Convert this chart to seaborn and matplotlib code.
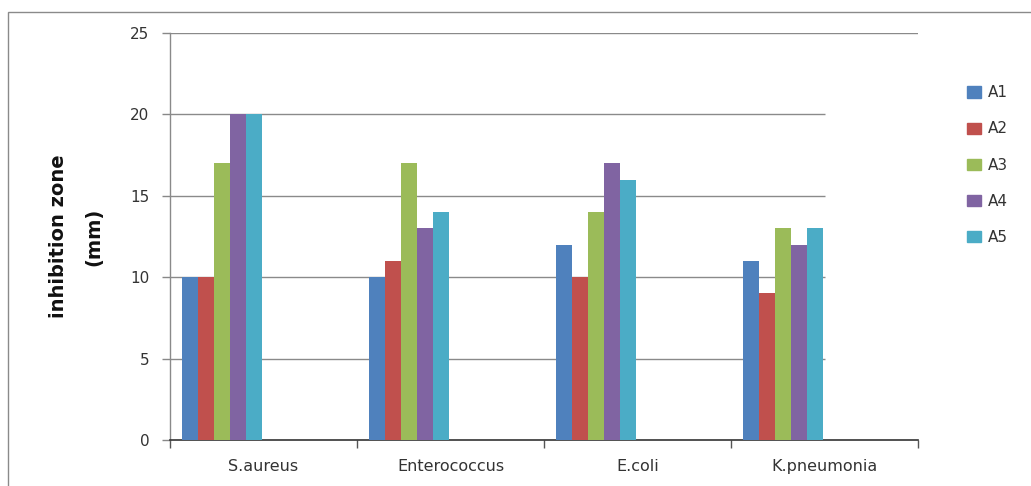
import matplotlib
matplotlib.use("Agg")
import matplotlib.pyplot as plt
import matplotlib.patches as mpatches
import seaborn as sns
import pandas as pd

# Inhibition zone (mm) per organism and sample
organisms = ["S.aureus", "Enterococcus", "E.coli", "K.pneumonia"]
samples = ["A1", "A2", "A3", "A4", "A5"]
a1 = [10, 10, 12, 11]
a2 = [10, 11, 10, 9]
a3 = [17, 17, 14, 13]
a4 = [20, 13, 17, 12]
a5 = [20, 14, 16, 13]
y_ticks = [0, 5, 10, 15, 20, 25]

colors = ["#4F81BD", "#C0504D", "#9BBB59", "#8064A2", "#4BACC6"]

series = dict(zip(samples, [a1, a2, a3, a4, a5]))
df = pd.DataFrame(
    [(org, s, series[s][i]) for s in samples for i, org in enumerate(organisms)],
    columns=["organism", "sample", "zone"],
)

sns.set_theme(style="white")
plt.rcParams["font.family"] = ["DejaVu Sans"]

fig = plt.figure(figsize=(10.31, 4.86), dpi=100)
ax = fig.add_axes([170 / 1031, 46 / 486, 748 / 1031, 407 / 486])

sns.barplot(
    data=df, x="organism", y="zone", hue="sample",
    order=organisms, hue_order=samples, palette=colors,
    width=0.43, dodge=True, gap=0, saturation=1, linewidth=0,
    legend=True, ax=ax, zorder=3,
)

# clusters sit in the left half of each category slot
for bar in ax.patches:
    bar.set_x(bar.get_x() - 0.222)

ax.set_xlim(-0.5, len(organisms) - 0.5)
ax.set_ylim(0, 25)
ax.set_yticks(y_ticks)
ax.set_yticklabels([str(v) for v in y_ticks], fontsize=11, color="#333333")
ax.set_xticks(range(len(organisms)))
ax.set_xticklabels(organisms, fontsize=11.5, color="#333333")
ax.set_xticks([i - 0.5 for i in range(len(organisms) + 1)], minor=True)

ax.tick_params(axis="y", which="major", direction="out", length=6, width=1,
               color="#888888", left=True, pad=9)
ax.tick_params(axis="x", which="major", length=0, pad=14)
ax.tick_params(axis="x", which="minor", direction="out", length=6, width=1,
               color="#555555", bottom=True)

# horizontal gridlines
ax.hlines([5, 10, 15, 20], -0.5, 3.0, colors="#8a8a8a", linewidth=1, zorder=1)
ax.axhline(25, color="#8a8a8a", linewidth=1, zorder=1)

for side in ("top", "right"):
    ax.spines[side].set_visible(False)
ax.spines["left"].set_color("#8a8a8a")
ax.spines["left"].set_linewidth(1)
ax.spines["bottom"].set_color("#333333")
ax.spines["bottom"].set_linewidth(1.2)

ax.set_xlabel("")
ax.set_ylabel("inhibition zone\n(mm)", fontsize=14, fontweight="bold",
              color="#111111", labelpad=19, linespacing=2.1)

handles = [mpatches.Patch(color=c, label=s) for c, s in zip(colors, samples)]
ax.legend(handles=handles, loc="upper left", bbox_to_anchor=(1.047, 0.905),
          frameon=False, fontsize=11, handlelength=0.9, handleheight=0.75,
          handletextpad=0.45, labelspacing=1.38, labelcolor="#333333")

# chart area border
fig.patches.append(mpatches.Rectangle(
    (8 / 1031, -0.05), 1.1, 1.05 - 12 / 486,
    transform=fig.transFigure, fill=False, edgecolor="#8a8a8a", linewidth=1))

fig.savefig("out.png", dpi=100)
